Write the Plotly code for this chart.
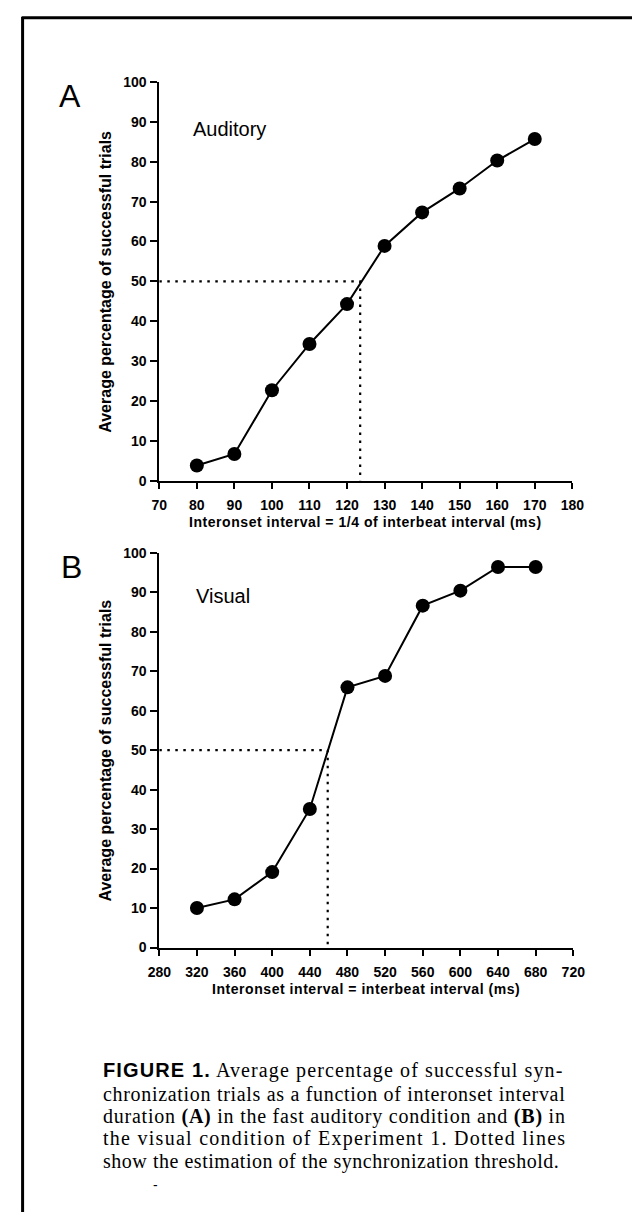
import plotly.graph_objects as go

# ---- data ----
aud_x = [80, 90, 100, 110, 120, 130, 140, 150, 160, 170]
aud_y = [3.8, 6.7, 22.7, 34.3, 44.3, 58.9, 67.3, 73.3, 80.3, 85.7]
aud_threshold = 123.5

vis_x = [320, 360, 400, 440, 480, 520, 560, 600, 640, 680]
vis_y = [10.0, 12.2, 19.1, 35.1, 65.9, 68.8, 86.6, 90.4, 96.4, 96.4]
vis_threshold = 459

criterion = 50

aud_ticks = list(range(70, 181, 10))
vis_ticks = list(range(280, 721, 40))
pct_ticks = list(range(0, 101, 10))

aud_xtitle = "Interonset interval = 1/4 of interbeat interval (ms)"
vis_xtitle = "Interonset interval = interbeat interval (ms)"
ytitle = "Average percentage of successful trials"

# caption: each line is a list of (text, style) runs
caption_runs = [
    [("FIGURE 1.", "hb"), (" Average percentage of successful syn-", "t")],
    [("chronization trials as a function of interonset interval", "t")],
    [("duration ", "t"), ("(A)", "tb"), (" in the fast auditory condition and ", "t"),
     ("(B)", "tb"), (" in", "t")],
    [("the visual condition of Experiment 1. Dotted lines", "t")],
    [("show the estimation of the synchronization threshold.", "t")],
]

# ---- page geometry (pixels) ----
W, H = 644, 1220


def px(x):
    return x / W


def py(y):
    return 1 - y / H


SANS = "Arial, Liberation Sans, Helvetica, sans-serif"
SERIF = "Times New Roman, Liberation Serif, serif"

# approximate advance widths (1/1000 em) used to set tracking of text runs
HELV = {c: 556 for c in "abdeghnopq0123456789"}
HELV.update({" ": 278, "I": 278, "A": 667, "t": 278, "r": 333, "s": 500,
             "v": 500, "l": 222, "i": 222, "f": 278, "=": 584, "/": 278,
             "(": 333, ")": 333, "m": 833, "c": 500, "u": 556, "y": 500,
             "k": 500, "j": 222, "w": 722, "x": 500, "z": 500})
HELV_BOLD = {c: 611 for c in "bdghnopqu"}
HELV_BOLD.update({c: 556 for c in "aceksvxyz0123456789"})
HELV_BOLD.update({" ": 278, "I": 278, "A": 722, "t": 333, "r": 389, "l": 278,
                  "i": 278, "f": 333, "=": 584, "/": 278, "(": 333, ")": 333,
                  "m": 889, "j": 278, "w": 778})
HELV_B = {"F": 611, "I": 278, "G": 778, "U": 722, "R": 722, "E": 667,
          " ": 278, "1": 556, ".": 278}
TIMES = {c: 500 for c in "bdghknopquvxy0123456789"}
TIMES.update({" ": 250, "a": 444, "c": 444, "e": 444, "f": 333, "i": 278,
              "j": 278, "l": 278, "m": 778, "r": 333, "s": 389, "t": 278,
              "w": 722, "z": 444, "E": 611, "D": 722, "A": 722, "B": 667,
              "(": 333, ")": 333, ".": 250, ",": 250, "-": 333})
TIMES_B = {"(": 333, ")": 333, "A": 722, "B": 667, " ": 250}

TABLES = {"t": TIMES, "tb": TIMES_B, "hb": HELV_B, "h": HELV, "H": HELV_BOLD}


def run_width(s, kind, size):
    table = TABLES[kind]
    return sum(table.get(ch, 500) for ch in s) * size / 1000.0


def tracked(runs, size, target=None, spacing=None):
    """Build rich text for runs; letter spacing set to reach target width."""
    natural = sum(run_width(s, k, size) for s, k in runs)
    nchar = sum(len(s) for s, _ in runs)
    if spacing is None:
        spacing = max(0.0, (target - natural) / max(nchar - 1, 1))
    parts = []
    for s, k in runs:
        style = "letter-spacing:%.2fpx;" % spacing
        if k == "hb":
            style += "font-family:Arial, Liberation Sans;font-weight:bold;"
        elif k in ("tb", "H"):
            style += "font-weight:bold;"
        parts.append('<span style="%s">%s</span>' % (style, s))
    return "".join(parts), spacing


fig = go.Figure()

dotted = dict(color="black", width=2.2, dash="2.5px,5.5px")

# threshold guides
fig.add_trace(go.Scatter(
    x=[aud_ticks[0], aud_threshold, aud_threshold], y=[criterion, criterion, 0],
    mode="lines", line=dotted,
    xaxis="x", yaxis="y", hoverinfo="skip", showlegend=False))
fig.add_trace(go.Scatter(
    x=[vis_ticks[0], vis_threshold, vis_threshold], y=[criterion, criterion, 0],
    mode="lines", line=dotted,
    xaxis="x2", yaxis="y2", hoverinfo="skip", showlegend=False))

# data curves
fig.add_trace(go.Scatter(
    x=aud_x, y=aud_y, mode="lines+markers",
    line=dict(color="black", width=2),
    marker=dict(color="black", size=14),
    xaxis="x", yaxis="y", showlegend=False))
fig.add_trace(go.Scatter(
    x=vis_x, y=vis_y, mode="lines+markers",
    line=dict(color="black", width=2),
    marker=dict(color="black", size=14),
    xaxis="x2", yaxis="y2", showlegend=False))

axis_common = dict(
    showline=True, linecolor="black", linewidth=2,
    ticks="outside", tickcolor="black", tickwidth=1.5,
    showgrid=False, zeroline=False,
    tickfont=dict(family=SANS, size=14, color="black", weight="bold"),
    fixedrange=True,
)

fig.update_layout(
    width=W, height=H,
    margin=dict(l=0, r=0, t=0, b=0),
    paper_bgcolor="white", plot_bgcolor="white",
    xaxis=dict(domain=[px(153), px(582)], range=[70, 180],
               tickvals=aud_ticks, ticklen=6, anchor="y",
               ticklabelstandoff=4, **axis_common),
    yaxis=dict(domain=[py(479), py(75)], range=[0, 100],
               tickvals=pct_ticks, ticklen=7, anchor="x",
               ticklabelstandoff=1, **axis_common),
    xaxis2=dict(domain=[px(153), px(583)], range=[280, 720],
                tickvals=vis_ticks, ticklen=6, anchor="y2",
                ticklabelstandoff=5, **axis_common),
    yaxis2=dict(domain=[py(952), py(552)], range=[0, 100],
                tickvals=pct_ticks, ticklen=7, anchor="x2",
                ticklabelstandoff=1, **axis_common),
)

ann = []


def text(x, y, s, size, family=SANS, xanchor="center", yanchor="middle",
         angle=0, weight="normal"):
    ann.append(dict(x=px(x), y=py(y), xref="paper", yref="paper", text=s,
                    showarrow=False, xanchor=xanchor, yanchor=yanchor,
                    textangle=angle,
                    font=dict(family=family, size=size, color="black",
                              weight=weight)))


# panel letters and condition names
text(60, 89, "A", 32)
text(62, 566, "B", 32)
text(186, 123, "Auditory", 20, xanchor="left")
text(189, 596, "Visual", 20, xanchor="left")

# axis titles
t_a, _ = tracked([(aud_xtitle, "H")], 14, target=352)
t_b, _ = tracked([(vis_xtitle, "H")], 14, target=308)
text(367, 521, t_a, 14)
text(368, 994, t_b, 14)
text(97, 277, ytitle, 16, angle=-90, weight="bold")
text(97, 752, ytitle, 16, angle=-90, weight="bold")

# caption, justified to a common measure
CAP_SIZE = 20
CAP_LEFT = 92
CAP_WIDTH = 462
for i, runs in enumerate(caption_runs):
    target = CAP_WIDTH if i < len(caption_runs) - 1 else CAP_WIDTH - 6
    s, _ = tracked(runs, CAP_SIZE, target=target)
    text(CAP_LEFT, 1077 + 23 * i, s, CAP_SIZE, family=SERIF, xanchor="left")
text(149, 1193, "-", 14)

fig.update_layout(annotations=ann)

# frame lines along the top and left edges
fig.update_layout(shapes=[
    dict(type="line", xref="paper", yref="paper",
         x0=px(10), x1=1, y0=py(10), y1=py(10),
         line=dict(color="black", width=3)),
    dict(type="line", xref="paper", yref="paper",
         x0=px(11), x1=px(11), y0=py(9), y1=0,
         line=dict(color="black", width=3)),
])

fig.write_html("out.html")
